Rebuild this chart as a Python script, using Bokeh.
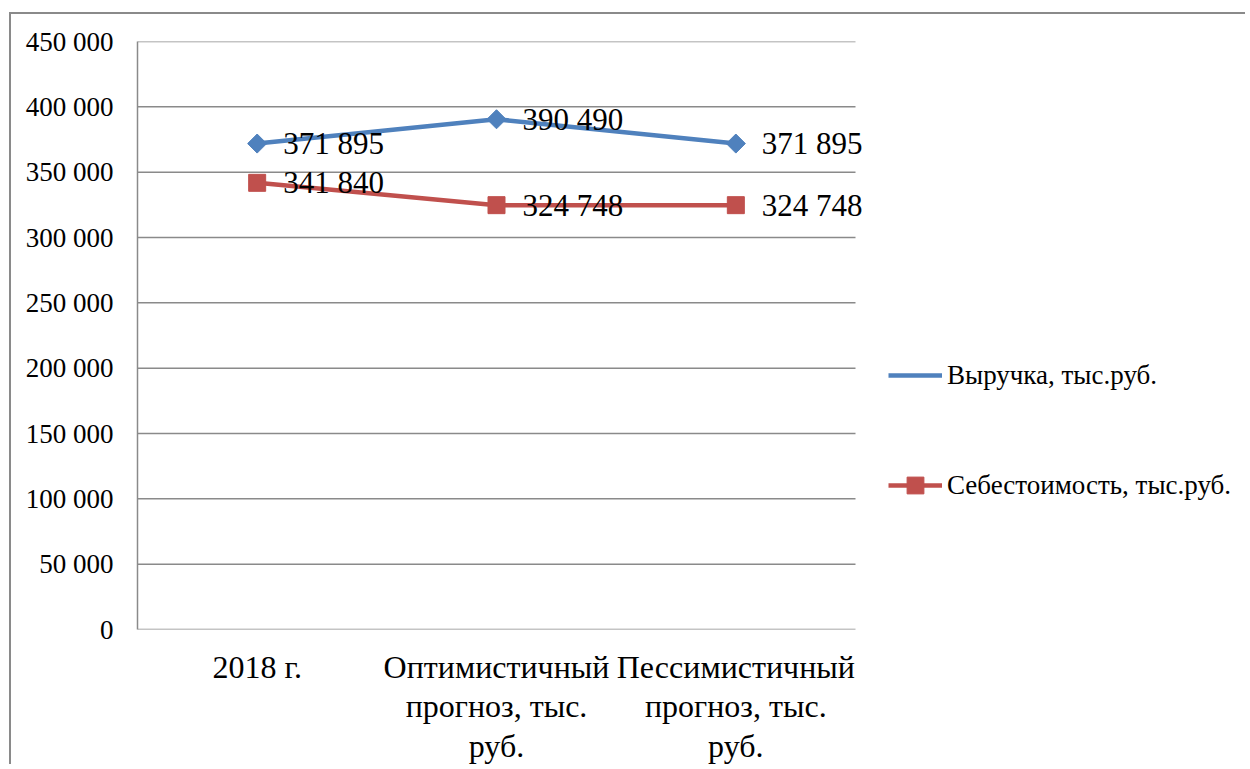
import math
from bokeh.plotting import figure
from bokeh.models import (ColumnDataSource, Range1d, FixedTicker, Legend, LegendItem)
from bokeh.core.properties import value
from bokeh.embed import file_html
from bokeh.resources import INLINE

categories = ["2018 г.", "Оптимистичный прогноз, тыс. руб.", "Пессимистичный прогноз, тыс. руб."]
category_labels = ["2018 г.", "Оптимистичный\nпрогноз, тыс.\nруб.", "Пессимистичный\nпрогноз, тыс.\nруб."]
revenue = [371895, 390490, 371895]
cost = [341840, 324748, 324748]
series_names = ["Выручка, тыс.руб.", "Себестоимость, тыс.руб."]
y_ticks = [0, 50000, 100000, 150000, 200000, 250000, 300000, 350000, 400000, 450000]

BLUE = "#4F81BD"
RED = "#C0504D"
GRID = "#8A8A8A"
FONT = "'Liberation Serif', 'Times New Roman', serif"

def fmt(v):
    return f"{v:,}".replace(",", " ")

n = len(categories)
xpos = [i + 0.5 for i in range(n)]

src = ColumnDataSource(dict(
    x=xpos,
    rev=revenue,
    cost=cost,
    rev_lbl=[fmt(v) for v in revenue],
    cost_lbl=[fmt(v) for v in cost],
))

# canvas geometry (canvas origin sits inside a CSS border at page (11, 14))
W, H = 1236, 752
ML, MT, MB, MR = 126, 27, 136, 7
plot_w = 718                      # width of the category area in px
frame_w = W - ML - MR
x_end = n * frame_w / plot_w

p = figure(width=W, height=H, output_backend="svg", toolbar_location=None,
           x_range=Range1d(0, x_end), y_range=Range1d(0, y_ticks[-1]))
p.min_border_left = ML
p.min_border_right = MR
p.min_border_top = MT
p.min_border_bottom = MB
p.outline_line_color = None
p.background_fill_color = "white"
p.border_fill_color = "white"
p.margin = (12, 0, 0, 9)
p.styles = {"border-left": "2px solid #8A8A8A", "border-top": "2px solid #8A8A8A"}

# axes
p.yaxis.ticker = FixedTicker(ticks=y_ticks)
p.yaxis.major_label_overrides = {t: fmt(t) for t in y_ticks}
p.xaxis.ticker = FixedTicker(ticks=xpos)
p.xaxis.major_label_overrides = {x: lbl for x, lbl in zip(xpos, category_labels)}
for ax in (p.xaxis[0], p.yaxis[0]):
    ax.axis_line_color = GRID
    ax.axis_line_width = 1.5
    ax.major_tick_in = 0
    ax.major_tick_out = 0
    ax.minor_tick_in = 0
    ax.minor_tick_out = 0
    ax.major_label_text_font = FONT
    ax.major_label_text_color = "black"
p.yaxis.major_label_text_font_size = "27px"
p.xaxis.major_label_text_font_size = "32px"
p.xaxis.axis_line_color = None
p.yaxis.major_label_standoff = 24
p.xaxis.major_label_standoff = 19
p.xaxis.major_label_text_line_height = 1.1
p.xaxis.major_label_orientation = "horizontal"

p.xgrid.grid_line_color = None
p.ygrid.grid_line_color = None

# horizontal gridlines over the category area only
p.segment(x0=[0] * len(y_ticks), x1=[n] * len(y_ticks), y0=y_ticks, y1=y_ticks,
          line_color=GRID, line_width=1.5)

# series
l1 = p.line("x", "rev", source=src, line_color=BLUE, line_width=4.5)
m1 = p.scatter("x", "rev", source=src, marker="square", angle=math.pi / 4,
               size=13.5, fill_color=BLUE, line_color=BLUE)
l2 = p.line("x", "cost", source=src, line_color=RED, line_width=4.5)
m2 = p.scatter("x", "cost", source=src, marker="square", size=17,
               fill_color=RED, line_color=RED)

# legend-only marker (drawn upright in the legend)
lm1 = p.scatter(x=[], y=[], marker="diamond", size=17, fill_color=BLUE, line_color=BLUE)

for col, ycol in (("rev_lbl", "rev"), ("cost_lbl", "cost")):
    p.text("x", ycol, text=col, source=src, x_offset=26,
           text_align="left", text_baseline="middle",
           text_font=value(FONT), text_font_size="31px", text_color="black")

legend = Legend(items=[LegendItem(label=series_names[0], renderers=[l1, lm1]),
                       LegendItem(label=series_names[1], renderers=[l2, m2])],
                location=(751, 123))
legend.glyph_width = 54
legend.glyph_height = 42
legend.label_height = 26
legend.label_standoff = 5
legend.spacing = 68
legend.padding = 0
legend.margin = 0
legend.border_line_color = None
legend.background_fill_alpha = 0
legend.label_text_font = FONT
legend.label_text_font_size = "27px"
legend.label_text_color = "black"
p.add_layout(legend, "center")

open("out.html", "w").write(file_html(p, INLINE))
